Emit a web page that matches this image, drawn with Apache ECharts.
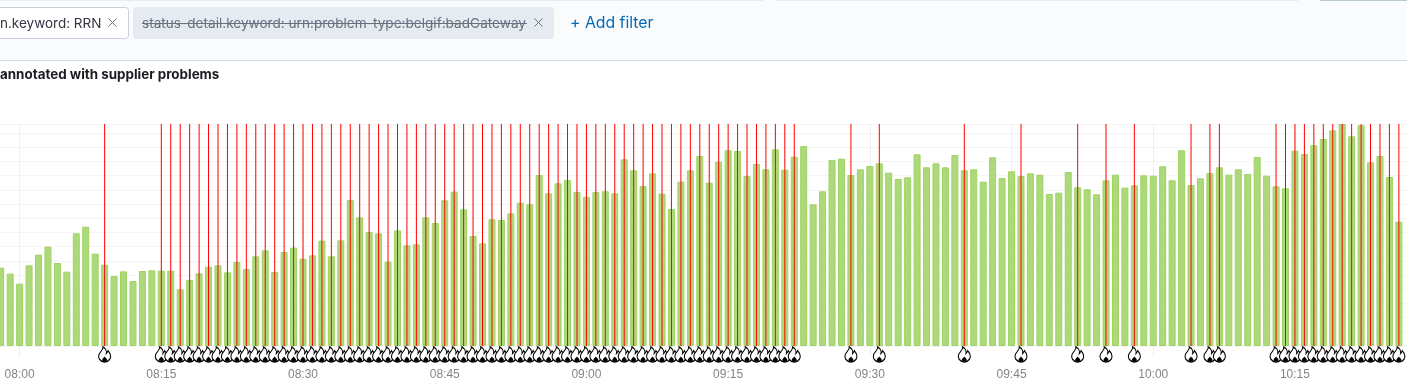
<!DOCTYPE html>
<html>
<head>
<meta charset="utf-8">
<style>
html, body { margin: 0; padding: 0; background: #fff; overflow: hidden; }
#chart { width: 1407px; height: 388px; }
</style>
<script src="https://cdn.jsdelivr.net/npm/echarts@6/dist/echarts.min.js"></script>
</head>
<body>
<div id="chart"></div>
<script>
// one bucket per minute, first bucket is 07:58
var firstBucket = '07:58';
var requestCounts = [
    235, 217, 187, 242, 274, 298, 249, 223, 338, 358, 277, 244, 210, 224, 195, 225, 227, 226, 226, 170,
    198, 218, 238, 242, 221, 252, 231, 269, 287, 222, 282, 295, 262, 272, 316, 269, 317, 438, 386, 342,
    338, 253, 347, 302, 305, 386, 369, 437, 463, 410, 330, 308, 380, 378, 398, 430, 425, 513, 458, 488,
    498, 462, 448, 462, 464, 458, 560, 527, 480, 518, 457, 411, 493, 527, 570, 490, 553, 587, 585, 510,
    546, 530, 590, 529, 568, 600, 425, 464, 558, 562, 513, 530, 540, 548, 520, 501, 506, 575, 536, 548,
    536, 573, 527, 530, 493, 566, 504, 524, 510, 518, 514, 456, 460, 522, 476, 470, 455, 497, 514, 475,
    482, 512, 511, 539, 497, 587, 483, 503, 519, 536, 514, 530, 516, 567, 511, 479, 473, 586, 576, 602,
    621, 647, 666, 629, 662, 551, 570, 507, 373
];
var problemTimes = [
    '08:09',
    '08:15', '08:16', '08:17', '08:18', '08:19', '08:20', '08:21', '08:22', '08:23', '08:24',
    '08:25', '08:26', '08:27', '08:28', '08:29', '08:30', '08:31', '08:32', '08:33', '08:34',
    '08:35', '08:36', '08:37', '08:38', '08:39', '08:40', '08:41', '08:42', '08:43', '08:44',
    '08:45', '08:46', '08:47', '08:48', '08:49', '08:50', '08:51', '08:52', '08:53', '08:54',
    '08:55', '08:56', '08:57', '08:58', '08:59', '09:00', '09:01', '09:02', '09:03', '09:04',
    '09:05', '09:06', '09:07', '09:08', '09:09', '09:10', '09:11', '09:12', '09:13', '09:14',
    '09:15', '09:16', '09:17', '09:18', '09:19', '09:20', '09:21', '09:22',
    '09:28', '09:31', '09:40', '09:46', '09:52', '09:55', '09:58', '10:04', '10:06', '10:07',
    '10:13', '10:14', '10:15', '10:16', '10:17', '10:18', '10:19', '10:20', '10:21', '10:22',
    '10:23', '10:24', '10:25', '10:26'
];

var FLAME = 'path://M9 0C10 5 4 9 2 14C0 20 3 27 12 28C21 27 24 20 22 14C21 10 19 9 18 7C17 10 16 11 15 12C16 7 13 2 9 0Z';
var BLOB = 'path://M6 0C7 3 12 5 12 9C12 12 9 13 6 13C3 13 0 12 0 9C0 5 5 3 6 0Z';

/**
 * @description "HH:mm" 转为当天分钟数, x 轴按分钟计
 */
function toMinutes(hhmm) {
    var parts = hhmm.split(':');
    return +parts[0] * 60 + +parts[1];
}

function pad(n) {
    return (n < 10 ? '0' : '') + n;
}

var startMinute = toMinutes(firstBucket);
var barData = [];
for (var i = 0; i < requestCounts.length; i++) {
    barData.push([startMinute + i, requestCounts[i]]);
}
var lineData = [];
var flameData = [];
for (var j = 0; j < problemTimes.length; j++) {
    lineData.push([toMinutes(problemTimes[j]), 666]);
    flameData.push([toMinutes(problemTimes[j]), 0]);
}

var myChart = echarts.init(document.getElementById('chart'));
var option = {
    animation: false,
    // the axis runs 07:45 - 10:45, the ends fall outside the window
    grid: {left: -122.1, width: 1700.46, top: 124, bottom: 42, outerBoundsMode: 'none'},
    xAxis: {
        type: 'value',
        min: 465,
        max: 645,
        interval: 15,
        containShape: false,
        axisLine: {show: false},
        axisTick: {show: true, length: 11, lineStyle: {color: '#eeeeee'}},
        axisLabel: {
            color: '#858585',
            fontFamily: 'Liberation Sans',
            fontSize: 12,
            margin: 23,
            showMinLabel: false,
            showMaxLabel: false,
            formatter: function (value) {
                if (value < 480 || value > 620) {
                    return '';
                }
                return pad(Math.floor(value / 60)) + ':' + pad(value % 60);
            }
        },
        splitLine: {show: true, lineStyle: {color: '#f0f0f0'}}
    },
    yAxis: {
        type: 'value',
        min: 0,
        max: 666,
        interval: 42.6,
        axisLine: {show: false},
        axisTick: {show: false},
        axisLabel: {show: false},
        splitLine: {show: true, lineStyle: {color: '#f5f5f5'}}
    },
    series: [{
        type: 'bar',
        data: barData,
        barWidth: 7,
        itemStyle: {color: '#aed97a', borderColor: '#9ed465', borderWidth: 1}
    }, {
        type: 'custom',
        data: lineData,
        silent: true,
        z: 5,
        renderItem: function (params, api) {
            var top = api.coord([api.value(0), api.value(1)]);
            var bottom = api.coord([api.value(0), 0]);
            return {
                type: 'line',
                shape: {x1: top[0], y1: top[1], x2: bottom[0], y2: bottom[1]},
                style: {stroke: '#ff0000', lineWidth: 1}
            };
        }
    }, {
        type: 'scatter',
        data: flameData,
        clip: false,
        silent: true,
        symbol: FLAME,
        symbolSize: [12, 15],
        symbolOffset: [0, 8.5],
        itemStyle: {color: '#ffffff', borderColor: '#000000', borderWidth: 1.2, opacity: 1},
        z: 6
    }, {
        type: 'scatter',
        data: flameData,
        clip: false,
        silent: true,
        symbol: BLOB,
        symbolSize: [5, 5],
        symbolOffset: [0, 13],
        itemStyle: {color: '#000000', opacity: 1},
        z: 7
    }],
    graphic: {
        elements: [
            {type: 'rect', silent: true, z: 1, shape: {x: 0, y: 0, width: 1407, height: 60}, style: {fill: '#fafbfd'}},
            {type: 'rect', silent: true, z: 1, shape: {x: 0, y: 60, width: 1407, height: 1}, style: {fill: '#d3dae6'}},
            {type: 'rect', silent: true, z: 2, shape: {x: 0, y: 0, width: 764, height: 1}, style: {fill: '#e9ebef'}},
            {type: 'rect', silent: true, z: 2, shape: {x: 776, y: 0, width: 522, height: 1}, style: {fill: '#e9ebef'}},
            {type: 'rect', silent: true, z: 2, shape: {x: 1320, y: 0, width: 87, height: 1}, style: {fill: '#b9c9ce'}},
            {type: 'rect', silent: true, z: 2, shape: {x: -6.5, y: 7.5, width: 135, height: 31, r: 3}, style: {fill: '#ffffff', stroke: '#c9d0dc', lineWidth: 1}},
            {type: 'text', silent: true, z: 3, style: {x: 0, y: 23.5, text: 'n.keyword: RRN', fill: '#343741', font: '13.5px Inter', verticalAlign: 'middle'}},
            {type: 'line', silent: true, z: 3, shape: {x1: 108.5, y1: 18.5, x2: 116.5, y2: 26.5}, style: {stroke: '#69707d', lineWidth: 1}},
            {type: 'line', silent: true, z: 3, shape: {x1: 116.5, y1: 18.5, x2: 108.5, y2: 26.5}, style: {stroke: '#69707d', lineWidth: 1}},
            {type: 'rect', silent: true, z: 2, shape: {x: 133, y: 7, width: 421, height: 32, r: 3}, style: {fill: '#e6ebf2'}},
            {type: 'text', silent: true, z: 3, style: {x: 142, y: 23.5, text: 'status-detail.keyword: urn:problem-type:belgif:badGateway', fill: '#69707d', font: '13.6px Inter', verticalAlign: 'middle'}},
            {type: 'rect', silent: true, z: 4, shape: {x: 142, y: 23, width: 385, height: 1}, style: {fill: '#69707d'}},
            {type: 'line', silent: true, z: 3, shape: {x1: 534.5, y1: 18.5, x2: 542.5, y2: 26.5}, style: {stroke: '#69707d', lineWidth: 1}},
            {type: 'line', silent: true, z: 3, shape: {x1: 542.5, y1: 18.5, x2: 534.5, y2: 26.5}, style: {stroke: '#69707d', lineWidth: 1}},
            {type: 'text', silent: true, z: 3, style: {x: 570, y: 23.5, text: '+ Add filter', fill: '#006bb4', font: '15.8px Inter', verticalAlign: 'middle'}},
            {type: 'text', silent: true, z: 3, style: {x: 0, y: 75, text: 'annotated with supplier problems', fill: '#1a1c21', font: 'bold 13.4px Inter', verticalAlign: 'middle'}}
        ]
    }
};
myChart.setOption(option);
</script>
</body>
</html>
